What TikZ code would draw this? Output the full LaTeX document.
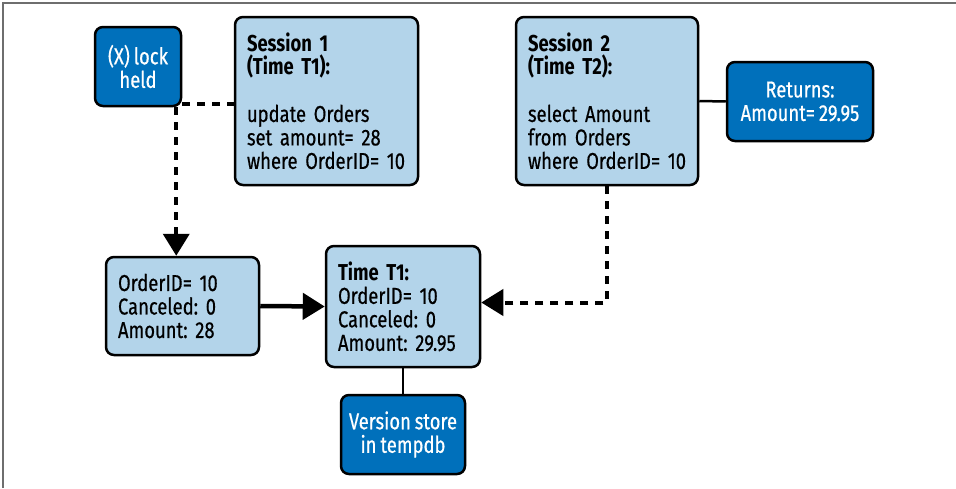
\documentclass[tikz,border=0pt]{standalone}
\usepackage{fontspec}
\setmainfont[FakeStretch=0.8,WordSpace=0.8,UprightFeatures={FakeBold=0.5}]{Fira Sans}
\usetikzlibrary{arrows.meta}
\definecolor{lightblue}{RGB}{179,212,234}
\definecolor{darkblue}{RGB}{0,112,187}
\definecolor{framegray}{RGB}{110,110,110}
\tikzset{
  basebox/.style={draw=black, line width=2.5pt, rounded corners=8pt, inner sep=0pt, font=\fontsize{23}{23.5}\selectfont},
  lightbox/.style={basebox, fill=lightblue, text=black, align=left},
  darkbox/.style={basebox, fill=darkblue, text=white, align=center},
  dashline/.style={line width=4pt, dash pattern=on 8pt off 7pt},
  tip/.style={-{Triangle[length=22pt,width=26pt]}},
  plainline/.style={line width=2.5pt}
}
\begin{document}
\begin{tikzpicture}[x=1pt,y=-1pt]
\useasboundingbox (0,0) rectangle (956,488);
\draw[framegray, line width=1.5pt] (3,488) -- (3,3) -- (956,3);

\node[darkbox, minimum width=86pt, minimum height=79pt] (lock) at (138,66.5) {\mbox{(X)~lock}\\held};
\node[lightbox, minimum width=183pt, minimum height=168pt, text width=159pt] (s1) at (326.5,101)
  {\mbox{\textbf{Session~1}}\\\mbox{\textbf{(Time~T1):}}\\[23.5pt]\mbox{update~Orders}\\\mbox{set~amount=~28}\\\mbox{where~OrderID=~10}};
\node[lightbox, minimum width=182pt, minimum height=168pt, text width=158pt] (s2) at (607,101)
  {\mbox{\textbf{Session~2}}\\\mbox{\textbf{(Time~T2):}}\\[23.5pt]\mbox{select~Amount}\\\mbox{from~Orders}\\\mbox{where~OrderID=~10}};
\node[darkbox, minimum width=146pt, minimum height=79pt] (ret) at (800,101.5) {Returns:\\\mbox{Amount=~29.95}};
\node[lightbox, minimum width=153pt, minimum height=98pt, text width=129pt] (o1) at (182.5,306)
  {\mbox{OrderID=~10}\\\mbox{Canceled:~0}\\\mbox{Amount:~28}};
\node[lightbox, minimum width=154pt, minimum height=121pt, text width=130pt] (t1) at (403,306.5)
  {\mbox{\textbf{Time~T1:}}\\\mbox{OrderID=~10}\\\mbox{Canceled:~0}\\\mbox{Amount:~29.95}};
\node[darkbox, minimum width=124pt, minimum height=79pt] (ver) at (403,434.5) {\mbox{Version~store}\\\mbox{in~tempdb}};

\draw[dashline] ([yshift=3pt]lock.south east) -- ([yshift=3pt]lock.south east -| s1.west);
\draw[dashline, tip] ([xshift=-6pt]lock.south east) -- ([xshift=-6pt]lock.south east |- o1.north);
\draw[plainline] (s2.east) -- (ret.west);
\draw[line width=4.5pt, tip] (o1.east) -- (t1.west);
\draw[dashline, tip] (s2.south) |- ([yshift=4pt]t1.east);
\draw[plainline] (t1.south) -- (ver.north);
\end{tikzpicture}
\end{document}
